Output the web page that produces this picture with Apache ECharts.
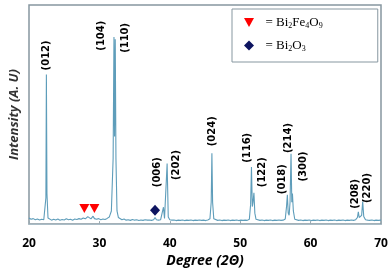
<!DOCTYPE html>
<html>
<head>
<meta charset="utf-8">
<script src="https://cdn.jsdelivr.net/npm/echarts@6/dist/echarts.min.js"></script>
<style>html,body{margin:0;padding:0;background:#fff}#c{width:392px;height:273px}</style>
</head>
<body>
<div id="c"></div>
<script>
// XRD pattern: [2theta (deg), intensity (a.u.)]
var pattern = [
[20.0,2.8],[20.3,2.2],[20.6,2.5],[20.9,2.0],[21.2,2.3],[21.5,1.9],[21.8,2.2],[22.1,2.0],[22.3,2.6],
[22.40,12],[22.47,68.3],[22.55,14],[22.7,2.8],[22.9,2.1],[23.2,1.8],[23.5,2.2],[23.8,1.9],[24.1,2.3],
[24.4,1.8],[24.7,2.1],[25.0,1.9],[25.3,2.4],[25.6,2.0],[25.9,2.2],[26.2,1.8],[26.5,2.3],[26.8,2.1],
[27.1,2.5],[27.4,2.2],[27.7,2.8],[28.0,2.4],[28.35,3.4],[28.5,2.6],[28.8,2.4],[29.1,3.6],[29.3,2.5],
[29.6,2.2],[29.9,2.5],[30.2,2.0],[30.5,2.3],[30.8,2.1],[31.1,2.6],[31.4,3.2],[31.7,6],[31.95,30],
[32.07,85.4],[32.15,40],[32.25,84.4],[32.35,30],[32.5,6],[32.7,3.0],[32.9,2.2],[33.2,2.0],[33.5,2.3],
[33.8,1.8],[34.1,2.0],[34.4,1.7],[34.7,2.1],[35.0,1.8],[35.3,2.0],[35.6,1.6],[35.9,1.9],[36.2,1.7],
[36.5,2.0],[36.8,1.8],[37.1,1.9],[37.4,1.7],[37.7,2.0],[37.9,3.0],[38.1,2.0],[38.4,1.8],[38.7,2.0],
[38.95,2.4],[39.1,7.7],[39.25,2.6],[39.45,3.0],[39.62,27.7],[39.78,3.2],[40.0,2.0],[40.3,1.8],
[40.6,1.9],[40.9,1.6],[41.2,1.8],[41.5,1.7],[41.8,1.9],[42.1,1.6],[42.4,1.8],[42.7,1.7],[43.0,1.9],
[43.3,1.6],[43.6,1.8],[43.9,1.7],[44.2,1.9],[44.5,1.7],[44.8,1.8],[45.1,1.6],[45.4,1.9],[45.7,2.4],
[45.88,10],[45.98,32.3],[46.08,10],[46.25,2.4],[46.5,1.8],[46.8,1.7],[47.1,1.9],[47.4,1.6],[47.7,1.8],
[48.0,1.7],[48.3,1.9],[48.6,1.6],[48.9,1.8],[49.2,1.7],[49.5,1.9],[49.8,1.6],[50.1,1.8],[50.4,1.7],
[50.7,1.8],[51.0,1.7],[51.3,2.2],[51.48,9],[51.6,26.0],[51.72,8],[51.82,10],[51.95,14.3],[52.08,5],
[52.25,2.2],[52.5,1.8],[52.8,1.7],[53.1,1.9],[53.4,1.6],[53.7,1.8],[54.0,1.7],[54.3,1.9],[54.6,1.6],
[54.9,1.8],[55.2,1.7],[55.5,1.9],[55.8,1.7],[56.1,1.8],[56.4,2.3],[56.58,8],[56.7,13.4],[56.82,5],
[56.95,4],[57.08,10],[57.22,32.1],[57.33,10],[57.42,14],[57.55,6],[57.75,2.2],[58.0,1.8],[58.3,1.7],
[58.6,1.9],[58.9,1.6],[59.2,1.8],[59.5,1.7],[59.8,1.9],[60.1,1.6],[60.4,1.8],[60.7,1.7],[61.0,1.9],
[61.3,1.6],[61.6,1.8],[61.9,1.7],[62.2,1.9],[62.5,1.6],[62.8,1.8],[63.1,1.7],[63.4,1.9],[63.7,1.6],
[64.0,1.8],[64.3,1.7],[64.6,1.9],[64.9,1.6],[65.2,1.8],[65.5,1.7],[65.8,1.9],[66.1,1.7],[66.4,2.0],
[66.65,3],[66.78,5.6],[66.9,3],[67.05,2.5],[67.25,4],[67.4,10.3],[67.55,3.5],[67.8,2.0],[68.1,1.8],
[68.4,1.7],[68.7,1.9],[69.0,1.6],[69.3,1.8],[69.6,1.7],[70.0,1.8]
];

// impurity phase markers
var bi2fe4o9Marks = [[27.86,7.1],[29.29,7.1]];
var bi2o3Marks = [[37.9,6.3]];

// Miller-index annotations: label, 2theta anchor, intensity anchor
var hklLabels = ['(012)','(104)','(110)','(006)','(202)','(024)','(116)','(122)','(018)','(214)','(300)','(208)','(220)'];
var hklDeg    = [22.47, 30.3, 33.7, 38.3, 40.9, 46.1, 51.0, 53.1, 56.0, 56.8, 59.0, 66.4, 68.0];
var hklInt    = [77, 86, 85, 23.7, 27, 42.4, 34.8, 23.7, 20.5, 39.3, 26.3, 13.8, 16.5];

var xTicks = [20, 30, 40, 50, 60, 70];

var chart = echarts.init(document.getElementById('c'), null, {renderer: 'canvas'});
var hklData = hklLabels.map(function (n, i) { return {name: n, value: [hklDeg[i], hklInt[i]]}; });
var downTri = 'path://M0,0L10,0L5,9Z';

chart.setOption({
  animation: false,
  backgroundColor: '#fff',
  grid: {left: 28, right: 11, top: 5, bottom: 44, show: true, borderColor: '#8797a0', borderWidth: 1.5, backgroundColor: 'transparent'},
  legend: {
    data: ['Bi2Fe4O9', 'Bi2O3'],
    orient: 'vertical',
    left: 232, top: 9,
    padding: [7, 55, 9, 12],
    itemGap: 9,
    itemWidth: 10, itemHeight: 10,
    borderColor: '#8797a0', borderWidth: 1,
    backgroundColor: '#fff',
    formatter: function (n) {
      return n === 'Bi2Fe4O9' ? '  = Bi{s|2}Fe{s|4}O{s|9}' : '  = Bi{s|2}O{s|3}';
    },
    textStyle: {
      fontFamily: 'Liberation Serif', fontSize: 13, color: '#000',
      rich: {s: {fontFamily: 'Liberation Serif', fontSize: 8, color: '#000', padding: [7, 0, 0, 0]}}
    }
  },
  xAxis: {
    type: 'value', min: 20, max: 70, interval: 10,
    name: 'Degree (2Θ)', nameLocation: 'middle', nameGap: 22,
    nameTextStyle: {fontFamily: 'Open Sans', fontStyle: 'italic', fontWeight: 'bold', fontSize: 14, color: '#000'},
    axisLine: {show: true, lineStyle: {color: '#a9bcc6', width: 1}},
    axisTick: {show: true, inside: true, length: 3, lineStyle: {color: '#9aaab2'}},
    axisLabel: {margin: 13, fontFamily: 'Open Sans', fontWeight: 'bold', fontSize: 12, color: '#000',
      formatter: function (v) { return xTicks.indexOf(v) >= 0 ? String(v) : ''; }},
    splitLine: {show: false}
  },
  yAxis: {
    type: 'value', min: 0, max: 100,
    name: 'Intensity (A. U)', nameLocation: 'middle', nameGap: 8,
    nameTextStyle: {fontFamily: 'Open Sans', fontStyle: 'italic', fontWeight: 'bold', fontSize: 13, color: '#333'},
    axisLine: {show: false}, axisTick: {show: false}, axisLabel: {show: false}, splitLine: {show: false}
  },
  series: [
    {type: 'line', name: 'pattern', data: pattern, showSymbol: false, symbol: 'none',
      lineStyle: {color: '#5e9dba', width: 1.1}, z: 3},
    {type: 'scatter', name: 'Bi2Fe4O9', data: bi2fe4o9Marks, symbol: downTri, symbolSize: [10, 9],
      itemStyle: {color: '#ff0000', opacity: 1}, z: 4},
    {type: 'scatter', name: 'Bi2O3', data: bi2o3Marks, symbol: 'diamond', symbolSize: [10, 11],
      itemStyle: {color: '#0d1460', opacity: 1}, z: 4},
    {type: 'scatter', name: 'hkl', data: hklData, symbolSize: 0, silent: true,
      itemStyle: {opacity: 1},
      label: {show: true, position: 'inside', rotate: 90, formatter: '{b}',
        fontFamily: 'DejaVu Sans', fontWeight: 'bold', fontSize: 10, color: '#000'}, z: 5}
  ]
});
</script>
</body>
</html>
